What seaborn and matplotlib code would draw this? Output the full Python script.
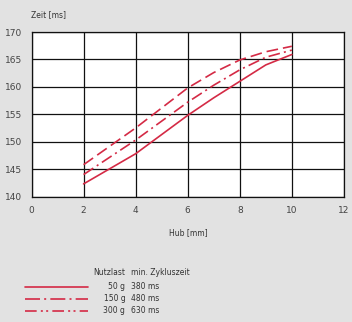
import matplotlib
matplotlib.use("Agg")
import matplotlib.pyplot as plt
import seaborn as sns
import pandas as pd
from matplotlib.lines import Line2D

hub = [2, 4, 6, 7, 8, 9, 10]
zeit_50 = [142.3, 147.8, 154.8, 158.0, 161.0, 164.0, 165.9]
zeit_150 = [144.0, 150.3, 157.2, 160.3, 163.1, 165.4, 166.7]
zeit_300 = [145.8, 152.5, 159.8, 162.6, 164.9, 166.4, 167.4]
nutzlast = ["50 g", "150 g", "300 g"]
zykluszeit = ["380 ms", "480 ms", "630 ms"]
x_ticks = [0, 2, 4, 6, 8, 10, 12]
y_ticks = [140, 145, 150, 155, 160, 165, 170]

sns.set_style("white")
plt.rcParams["font.family"] = ["DejaVu Sans"]

rows = []
for name, vals in zip(nutzlast, [zeit_50, zeit_150, zeit_300]):
    for h, z in zip(hub, vals):
        rows.append({"Hub": h, "Zeit": z, "Nutzlast": name})
df = pd.DataFrame(rows)

red = "#d42a45"
dashes = {"50 g": "", "150 g": (7, 2.5, 1.2, 2.5), "300 g": (7, 3)}
legend_dashes = ["-", (0, (9, 2.5, 1.2, 2.5)), (0, (7, 2.5, 1.2, 2, 1.2, 2.5))]

bg = "#e2e2e2"
fig = plt.figure(figsize=(3.52, 3.22), dpi=100, facecolor=bg)
ax = fig.add_axes([0.0895, 0.3897, 0.8875, 0.5109])
ax.set_facecolor("white")

sns.lineplot(data=df, x="Hub", y="Zeit", hue="Nutzlast", style="Nutzlast",
             palette=[red, red, red], dashes=dashes, linewidth=1.2,
             legend=False, ax=ax)

ax.set_xlim(0, 12)
ax.set_ylim(140, 170)
ax.set_xticks(x_ticks)
ax.set_yticks(y_ticks)
ax.grid(True, color="#111111", linewidth=0.9)
ax.set_axisbelow(True)
for s in ax.spines.values():
    s.set_color("#111111")
    s.set_linewidth(0.9)
ax.tick_params(axis="both", labelsize=6.5, colors="#444444", length=2.5, width=0.7, pad=4)
ax.tick_params(axis="x", length=0, pad=7)
ax.set_xlabel("")
ax.set_ylabel("")

fig.text(0.087, 0.955, "Zeit [ms]", fontsize=5.5, color="#333333", ha="left", va="center")
fig.text(0.535, 0.278, "Hub [mm]", fontsize=5.5, color="#333333", ha="center", va="center")

# legend table
fig.text(0.356, 0.155, "Nutzlast", fontsize=5.5, color="#333333", ha="right", va="center")
fig.text(0.372, 0.155, "min. Zykluszeit", fontsize=5.5, color="#333333", ha="left", va="center")
ys = [0.109, 0.072, 0.035]
for y, ls, n, z in zip(ys, legend_dashes, nutzlast, zykluszeit):
    fig.add_artist(Line2D([0.07, 0.25], [y, y], color=red, linewidth=1.2, linestyle=ls))
    fig.text(0.356, y, n, fontsize=5.5, color="#333333", ha="right", va="center")
    fig.text(0.372, y, z, fontsize=5.5, color="#333333", ha="left", va="center")

fig.savefig("out.png", dpi=100, facecolor=bg)
